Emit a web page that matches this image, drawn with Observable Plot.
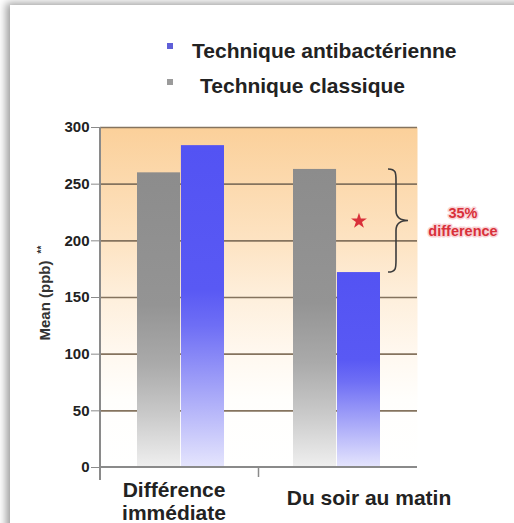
<!DOCTYPE html>
<html>
<head>
<meta charset="utf-8">
<script src="https://cdn.jsdelivr.net/npm/d3@7"></script>
<script src="https://cdn.jsdelivr.net/npm/@observablehq/plot@0.6"></script>
<style>
  html, body { margin: 0; padding: 0; background: #fff; overflow: hidden; width: 514px; height: 523px; }
  #card { position: absolute; left: 10px; top: 5px; width: 560px; height: 580px; background: #fff;
          box-shadow: -3px -1px 8px 1px rgba(0,0,0,0.38); }
  .leg { position: absolute; font: bold 21px "Liberation Sans", Arial, sans-serif; color: #222;
         line-height: 21px; white-space: nowrap; }
  .sw { position: absolute; width: 6px; height: 6px; }
  #chart { position: absolute; left: 0; top: 110px; }
  #chart svg text { font-weight: bold; }
</style>
</head>
<body>
<div id="card"></div>
<div id="legend"></div>
<div id="chart"></div>
<script>
// Mean concentration (ppb) per measurement, for the two cleaning techniques
const categories = ["Différence immédiate", "Du soir au matin"];
const categoryLabels = ["Différence\nimmédiate", "Du soir au matin"];
const series = ["Technique classique", "Technique antibactérienne"];
const classique = [260, 263];
const antibacterienne = [284, 172];
const yTicks = [0, 50, 100, 150, 200, 250, 300];
const yLabel = "Mean (ppb)";
const yLabelMark = "**";
const differenceLabel = "35%\ndifference";
const legendOrder = ["Technique antibactérienne", "Technique classique"];

const colors = {
  "Technique antibactérienne": "#5f5fd8",
  "Technique classique": "#9b9b9b"
};

const W = 514, H = 413;
const M = {top: 17, right: 97, bottom: 56, left: 100};
const padIn = 0.44, padOut = 0.23;

// Same band layout as the x scale below, used to split each band into two bars
const band = d3.scaleBand().domain(categories)
  .range([M.left, W - M.right]).paddingInner(padIn).paddingOuter(padOut);
const half = band.bandwidth() / 2;

const rows = categories.flatMap((c, i) => [
  {category: c, series: series[0], value: classique[i]},
  {category: c, series: series[1], value: antibacterienne[i]}
]);
const mid = (classique[1] + antibacterienne[1]) / 2;

// Legend
const legend = document.getElementById("legend");
legendOrder.forEach((name, i) => {
  const top = i === 0 ? 43 : 79;
  const sw = document.createElement("div");
  sw.className = "sw";
  sw.style.left = "167px";
  sw.style.top = top + "px";
  sw.style.background = colors[name];
  legend.appendChild(sw);
  const t = document.createElement("div");
  t.className = "leg";
  t.style.left = (i === 0 ? 192 : 200) + "px";
  t.style.top = (i === 0 ? 40 : 75) + "px";
  t.textContent = name;
  legend.appendChild(t);
});

const NS = "http://www.w3.org/2000/svg";
function el(tag, attrs = {}, children = []) {
  const e = document.createElementNS(NS, tag);
  for (const k in attrs) e.setAttribute(k, attrs[k]);
  children.forEach(c => e.appendChild(c));
  return e;
}
function vGradient(id, stops) {
  return el("linearGradient", {id, x1: 0, y1: 0, x2: 0, y2: 1},
    stops.map(([o, c]) => el("stop", {offset: o, "stop-color": c})));
}

// Gradient definitions for the plot background and the bars
const defsMark = () => el("defs", {}, [
  vGradient("g-bg", [[0, "#fbd09a"], [0.33, "#fde3c2"], [0.5, "#feefdc"], [0.66, "#fff8ef"], [0.8, "#fffefc"], [1, "#ffffff"]]),
  vGradient("g-gray", [[0, "#8c8c8c"], [0.45, "#949494"], [0.65, "#aaaaaa"], [0.82, "#c9c9c9"], [1, "#efefef"]]),
  vGradient("g-blue", [[0, "#5353f3"], [0.45, "#5959f4"], [0.56, "#6e6ef5"], [0.76, "#a4a4f8"], [1, "#e5e5fd"]])
]);

// Axis line, baseline with band separator tick, and the brace between the two bars
const frameLines = (index, scales) => {
  const x = typeof scales.x === "function" ? scales.x : band;
  const y = scales.y;
  const bw = typeof x.bandwidth === "function" ? x.bandwidth() : band.bandwidth();
  const y0 = y(0), yTop = y(yTicks[yTicks.length - 1]);
  const sep = (x(categories[0]) + bw + x(categories[1])) / 2;
  const g = el("g", {fill: "none", stroke: "#8a8a8a", "stroke-width": 2});
  g.appendChild(el("line", {x1: M.left, x2: W - M.right, y1: y0, y2: y0}));
  g.appendChild(el("line", {x1: M.left, x2: M.left, y1: yTop, y2: y0 + 13}));
  g.appendChild(el("line", {x1: sep, x2: sep, y1: y0, y2: y0 + 10, "stroke-width": 1.5}));
  const yT = y(classique[1]), yB = y(antibacterienne[1]), yM = (yT + yB) / 2;
  const x0 = x(categories[1]) + bw + 8, xs = x0 + 8, xc = x0 + 20;
  const d = `M${x0},${yT} C${xs},${yT} ${xs},${yT + 4} ${xs},${yT + 12} L${xs},${yM - 10} ` +
            `C${xs},${yM - 3} ${xs + 4},${yM} ${xc},${yM} C${xs + 4},${yM} ${xs},${yM + 3} ${xs},${yM + 10} ` +
            `L${xs},${yB - 12} C${xs},${yB - 4} ${xs},${yB} ${x0},${yB}`;
  g.appendChild(el("path", {d, stroke: "#3c3c3c", "stroke-width": 1.6}));
  return g;
};

const chart = Plot.plot({
  width: W,
  height: H,
  marginTop: M.top,
  marginRight: M.right,
  marginBottom: M.bottom,
  marginLeft: M.left,
  style: {fontFamily: "'Liberation Sans', Arial, sans-serif", fontWeight: "bold", color: "#333", background: "transparent", overflow: "visible"},
  x: {domain: categories, paddingInner: padIn, paddingOuter: padOut, axis: null},
  y: {domain: [0, 300], axis: null},
  marks: [
    defsMark,
    Plot.frame({fill: "url(#g-bg)", stroke: "none"}),
    Plot.ruleY(yTicks.filter(d => d > 0), {stroke: "#85735e", strokeWidth: 1.7}),
    Plot.barY(rows.filter(d => d.series === series[0]), {x: "category", y: "value", fill: "url(#g-gray)", insetRight: half}),
    Plot.barY(rows.filter(d => d.series === series[1]), {x: "category", y: "value", fill: "url(#g-blue)", insetLeft: half}),
    frameLines,
    Plot.axisY({ticks: yTicks, tickSize: 9, tickPadding: 2, fontSize: 15, fontWeight: "bold", stroke: "#8a8a8a", fill: "#222", label: null}),
    Plot.text([yLabel], {frameAnchor: "left", textAnchor: "middle", rotate: -90, dx: -55, dy: 3, fontSize: 15, fontWeight: "bold", fill: "#333"}),
    Plot.text([yLabelMark], {frameAnchor: "left", textAnchor: "middle", rotate: -90, dx: -59, dy: -48, fontSize: 10, fontWeight: "bold", fill: "#333"}),
    Plot.text([0], {x: () => categories[0], text: () => categoryLabels[0], frameAnchor: "bottom", lineAnchor: "top", dy: 12, dx: -7, fontSize: 21, fontWeight: "bold", lineHeight: 1.14, fill: "#222"}),
    Plot.text([1], {x: () => categories[1], text: () => categoryLabels[1], frameAnchor: "bottom", lineAnchor: "top", dy: 23, dx: 32, fontSize: 21, fontWeight: "bold", fill: "#222"}),
    Plot.dot([mid], {x: () => categories[1], y: d => d, dx: half / 2, symbol: "star", r: 5, fill: "#d9303a", stroke: "none"}),
    Plot.text([mid], {x: () => categories[1], y: d => d, text: () => differenceLabel, dx: 126, fontSize: 14.5, fontWeight: "bold", lineHeight: 1.25, fill: "#d9303a", stroke: "#f8d3d6", strokeWidth: 3, paintOrder: "stroke"})
  ]
});

document.getElementById("chart").appendChild(chart);
</script>
</body>
</html>
